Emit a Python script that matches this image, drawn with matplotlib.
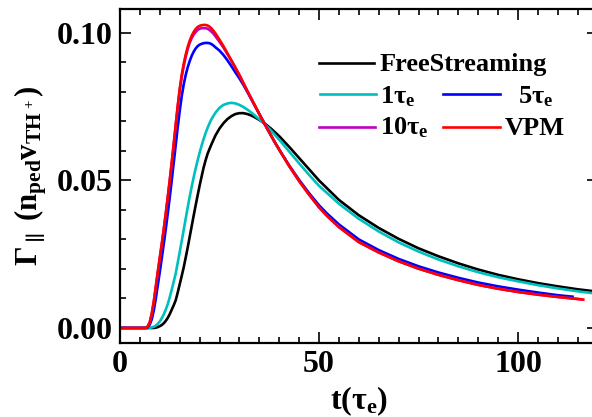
import matplotlib
matplotlib.use("Agg")
import matplotlib.pyplot as plt
from matplotlib.ticker import MultipleLocator, FormatStrFormatter

# bold Times-like text everywhere, mathtext included
plt.rcParams['font.family'] = ['Liberation Serif', 'DejaVu Serif']
plt.rcParams['font.weight'] = 'bold'
plt.rcParams['axes.labelweight'] = 'bold'
plt.rcParams['mathtext.fontset'] = 'custom'
plt.rcParams['mathtext.rm'] = 'Liberation Serif:bold'
plt.rcParams['mathtext.it'] = 'Liberation Serif:bold'
plt.rcParams['mathtext.bf'] = 'Liberation Serif:bold'

# ---- values ----
t_free = [0, 8.5, 9, 9.5, 10, 10.5, 11, 11.5, 12, 12.5, 13, 13.5, 14, 14.5, 15, 15.5, 16,
          16.5, 17, 17.5, 18, 18.5, 19, 19.5, 20, 20.5, 21, 21.5, 22, 22.5, 23, 24, 25, 26,
          27, 28, 29, 30, 31, 32, 33, 34, 35, 36, 37, 38, 40, 42.5, 45, 47.5, 50, 55, 60,
          65, 70, 75, 80, 85, 90, 95, 100, 105, 110, 115, 120]
g_free = [0, 0, 0.0001, 0.0003, 0.0006, 0.0010, 0.0016, 0.0024, 0.0034, 0.0047, 0.0062,
          0.0077, 0.0094, 0.0120, 0.0148, 0.0176, 0.0205, 0.0238, 0.0272, 0.0308, 0.0344,
          0.0380, 0.0415, 0.0449, 0.0482, 0.0513, 0.0543, 0.0568, 0.0590, 0.0607, 0.0623,
          0.0653, 0.0676, 0.0694, 0.0708, 0.0718, 0.0725, 0.0728, 0.0728, 0.0725, 0.0720,
          0.0713, 0.0705, 0.0696, 0.0686, 0.0675, 0.0650, 0.0614, 0.0576, 0.0538, 0.0500,
          0.0434, 0.0382, 0.0339, 0.0302, 0.0270, 0.0243, 0.0219, 0.0198, 0.0180, 0.0165,
          0.0152, 0.0141, 0.0131, 0.0123]

t_1 = [0, 7.5, 8, 8.5, 9, 9.5, 10, 10.5, 11, 11.5, 12, 12.5, 13, 13.5, 14, 14.5, 15, 15.5,
       16, 16.5, 17, 17.5, 18, 18.5, 19, 19.5, 20, 20.5, 21, 21.5, 22, 22.5, 23, 24, 25, 26,
       27, 28, 29, 30, 31, 32, 33, 34, 35, 36, 37, 38, 40, 42.5, 45, 47.5, 50, 55, 60, 65,
       70, 75, 80, 85, 90, 95, 100, 105, 110, 115, 120]
g_1 = [0, 0, 0.0002, 0.0004, 0.0008, 0.0014, 0.0022, 0.0033, 0.0046, 0.0062, 0.0081,
       0.0104, 0.0130, 0.0157, 0.0185, 0.0221, 0.0257, 0.0294, 0.0332, 0.0370, 0.0408,
       0.0444, 0.0478, 0.0510, 0.0540, 0.0568, 0.0594, 0.0618, 0.0640, 0.0660, 0.0678,
       0.0694, 0.0708, 0.0730, 0.0746, 0.0756, 0.0761, 0.0763, 0.0761, 0.0756, 0.0749,
       0.0740, 0.0730, 0.0719, 0.0707, 0.0695, 0.0682, 0.0668, 0.0638, 0.0598, 0.0558,
       0.0519, 0.0482, 0.0421, 0.0370, 0.0327, 0.0290, 0.0259, 0.0232, 0.0209, 0.0189,
       0.0172, 0.0158, 0.0145, 0.0134, 0.0124, 0.0116]

t_5 = [0, 6.8, 7, 7.5, 8, 8.5, 9, 9.5, 10, 10.5, 11, 11.5, 12, 12.5, 13, 13.5, 14, 14.5, 15,
       15.5, 16, 16.5, 17, 17.5, 18, 18.5, 19, 19.5, 20, 20.5, 21, 21.5, 22, 22.5, 23, 23.5,
       24, 25, 26, 27, 28, 29, 30, 31, 32, 33, 34, 35, 36, 37, 38, 39, 40, 41, 42.5, 45,
       47.5, 50, 52, 55, 60, 65, 70, 75, 80, 85, 90, 95, 100, 105, 110, 113.7]
g_5 = [0, 0, 0.0003, 0.0012, 0.0030, 0.0060, 0.0100, 0.0145, 0.0190, 0.0237, 0.0285,
       0.0335, 0.0388, 0.0443, 0.0500, 0.0560, 0.0620, 0.0680, 0.0735, 0.0785, 0.0825,
       0.0857, 0.0883, 0.0904, 0.0922, 0.0936, 0.0947, 0.0955, 0.0960, 0.0963, 0.0965,
       0.0966, 0.0966, 0.0965, 0.0962, 0.0957, 0.0951, 0.0940, 0.0925, 0.0907, 0.0887,
       0.0866, 0.0846, 0.0824, 0.0800, 0.0775, 0.0750, 0.0725, 0.0700, 0.0675, 0.0651,
       0.0627, 0.0605, 0.0583, 0.0551, 0.0502, 0.0457, 0.0416, 0.0388, 0.0351, 0.0300,
       0.0264, 0.0234, 0.0209, 0.0188, 0.0170, 0.0154, 0.0141, 0.0130, 0.0120, 0.0111,
       0.0106]

t_10 = [0, 6.5, 7, 7.5, 8, 8.5, 9, 9.5, 10, 10.5, 11, 11.5, 12, 12.5, 13, 13.5, 14, 14.5,
        15, 15.5, 16, 16.5, 17, 17.5, 18, 18.5, 19, 19.5, 20, 20.5, 21, 21.5, 22, 22.5, 23,
        23.5, 24, 25, 26, 27, 28, 29, 30, 31, 32, 33, 34, 35, 36, 37, 38, 39, 40, 41, 42.5,
        45, 47.5, 50, 52, 55, 60, 65, 70, 75, 80, 85, 90, 95, 100, 105, 110, 116]
g_10 = [0, 0, 0.0006, 0.0020, 0.0050, 0.0090, 0.0140, 0.0190, 0.0238, 0.0285, 0.0335,
        0.0388, 0.0443, 0.0500, 0.0560, 0.0623, 0.0688, 0.0750, 0.0805, 0.0850, 0.0887,
        0.0918, 0.0945, 0.0966, 0.0982, 0.0994, 0.1003, 0.1010, 0.1014, 0.1016, 0.1016,
        0.1016, 0.1014, 0.1010, 0.1004, 0.0997, 0.0988, 0.0970, 0.0950, 0.0928, 0.0906,
        0.0882, 0.0857, 0.0830, 0.0803, 0.0777, 0.0751, 0.0725, 0.0700, 0.0675, 0.0651,
        0.0627, 0.0604, 0.0582, 0.0549, 0.0498, 0.0452, 0.0409, 0.0380, 0.0342, 0.0291,
        0.0256, 0.0226, 0.0201, 0.0180, 0.0162, 0.0146, 0.0133, 0.0122, 0.0113, 0.0105,
        0.0097]

t_vpm = [0, 6.5, 7, 7.5, 8, 8.5, 9, 9.5, 10, 10.5, 11, 11.5, 12, 12.5, 13, 13.5, 14, 14.5,
         15, 15.5, 16, 16.5, 17, 17.5, 18, 18.5, 19, 19.5, 20, 20.5, 21, 21.5, 22, 22.5, 23,
         23.5, 24, 25, 26, 27, 28, 29, 30, 31, 32, 33, 34, 35, 36, 37, 38, 39, 40, 41, 42.5,
         45, 47.5, 50, 52, 55, 60, 65, 70, 75, 80, 85, 90, 95, 100, 105, 110, 115, 116.4]
g_vpm = [0, 0, 0.0006, 0.0020, 0.0050, 0.0090, 0.0140, 0.0190, 0.0238, 0.0285, 0.0335,
         0.0388, 0.0443, 0.0500, 0.0560, 0.0623, 0.0688, 0.0752, 0.0810, 0.0857, 0.0895,
         0.0926, 0.0952, 0.0973, 0.0990, 0.1003, 0.1013, 0.1020, 0.1024, 0.1026, 0.1027,
         0.1027, 0.1025, 0.1021, 0.1015, 0.1007, 0.0998, 0.0977, 0.0955, 0.0931, 0.0906,
         0.0882, 0.0857, 0.0830, 0.0803, 0.0777, 0.0751, 0.0725, 0.0700, 0.0675, 0.0651,
         0.0627, 0.0604, 0.0582, 0.0549, 0.0498, 0.0452, 0.0409, 0.0380, 0.0342, 0.0291,
         0.0256, 0.0226, 0.0201, 0.0180, 0.0162, 0.0146, 0.0133, 0.0122, 0.0113, 0.0105,
         0.0098, 0.0096]

fig = plt.figure(figsize=(5.92, 4.17), dpi=100)
# axes runs past the right edge of the figure, as in the reference crop
ax = fig.add_axes([120/592, 74/417, 477.6/592, 334/417])

lw = 1.9
ax.plot(t_free, g_free, color='black', lw=lw)
ax.plot(t_1, g_1, color='#00BFBF', lw=lw)
ax.plot(t_5, g_5, color='blue', lw=lw)
ax.plot(t_10, g_10, color='#BF00BF', lw=lw)
ax.plot(t_vpm, g_vpm, color='red', lw=lw)

ax.set_xlim(0, 120)
ax.set_ylim(-0.0051, 0.1081)
ax.xaxis.set_major_locator(MultipleLocator(50))
ax.xaxis.set_minor_locator(MultipleLocator(5))
ax.yaxis.set_major_locator(MultipleLocator(0.05))
ax.yaxis.set_minor_locator(MultipleLocator(0.01))
ax.yaxis.set_major_formatter(FormatStrFormatter('%.2f'))
ax.tick_params(which='both', direction='in', top=True, right=True, labelsize=23, width=1.2)
ax.tick_params(which='major', length=8, pad=5)
ax.tick_params(which='minor', length=4)
for s in ax.spines.values():
    s.set_linewidth(1.6)

ax.set_xlabel(r"t($\tau_e$)", fontsize=23, labelpad=4)
ax.set_ylabel(r"$\Gamma_{\parallel}$ (n$_{ped}$v$_{TH^+}$)", fontsize=22, labelpad=6)

# legend drawn by hand (FreeStreaming row overlaps the second column)
leg_fs = 19
ax.plot([50, 63.8], [0.0897, 0.0897], color='black', lw=lw)
ax.text(65.3, 0.0872, "FreeStreaming", fontsize=leg_fs, va='baseline')
ax.plot([50.3, 64.3], [0.0792, 0.0792], color='#00BFBF', lw=lw)
ax.text(65.3, 0.0762, r"1$\tau_e$", fontsize=leg_fs, va='baseline')
ax.plot([81.2, 95.5], [0.0792, 0.0792], color='blue', lw=lw)
ax.text(104.3, 0.0762, r"5$\tau_e$", fontsize=leg_fs, va='baseline', ha='center')
ax.plot([50, 64], [0.0682, 0.0682], color='#BF00BF', lw=lw)
ax.text(65.3, 0.0655, r"10$\tau_e$", fontsize=leg_fs, va='baseline')
ax.plot([81.2, 95.5], [0.0682, 0.0682], color='red', lw=lw)
ax.text(104.3, 0.0655, "VPM", fontsize=leg_fs, va='baseline', ha='center')

fig.savefig("out.png", dpi=100)
